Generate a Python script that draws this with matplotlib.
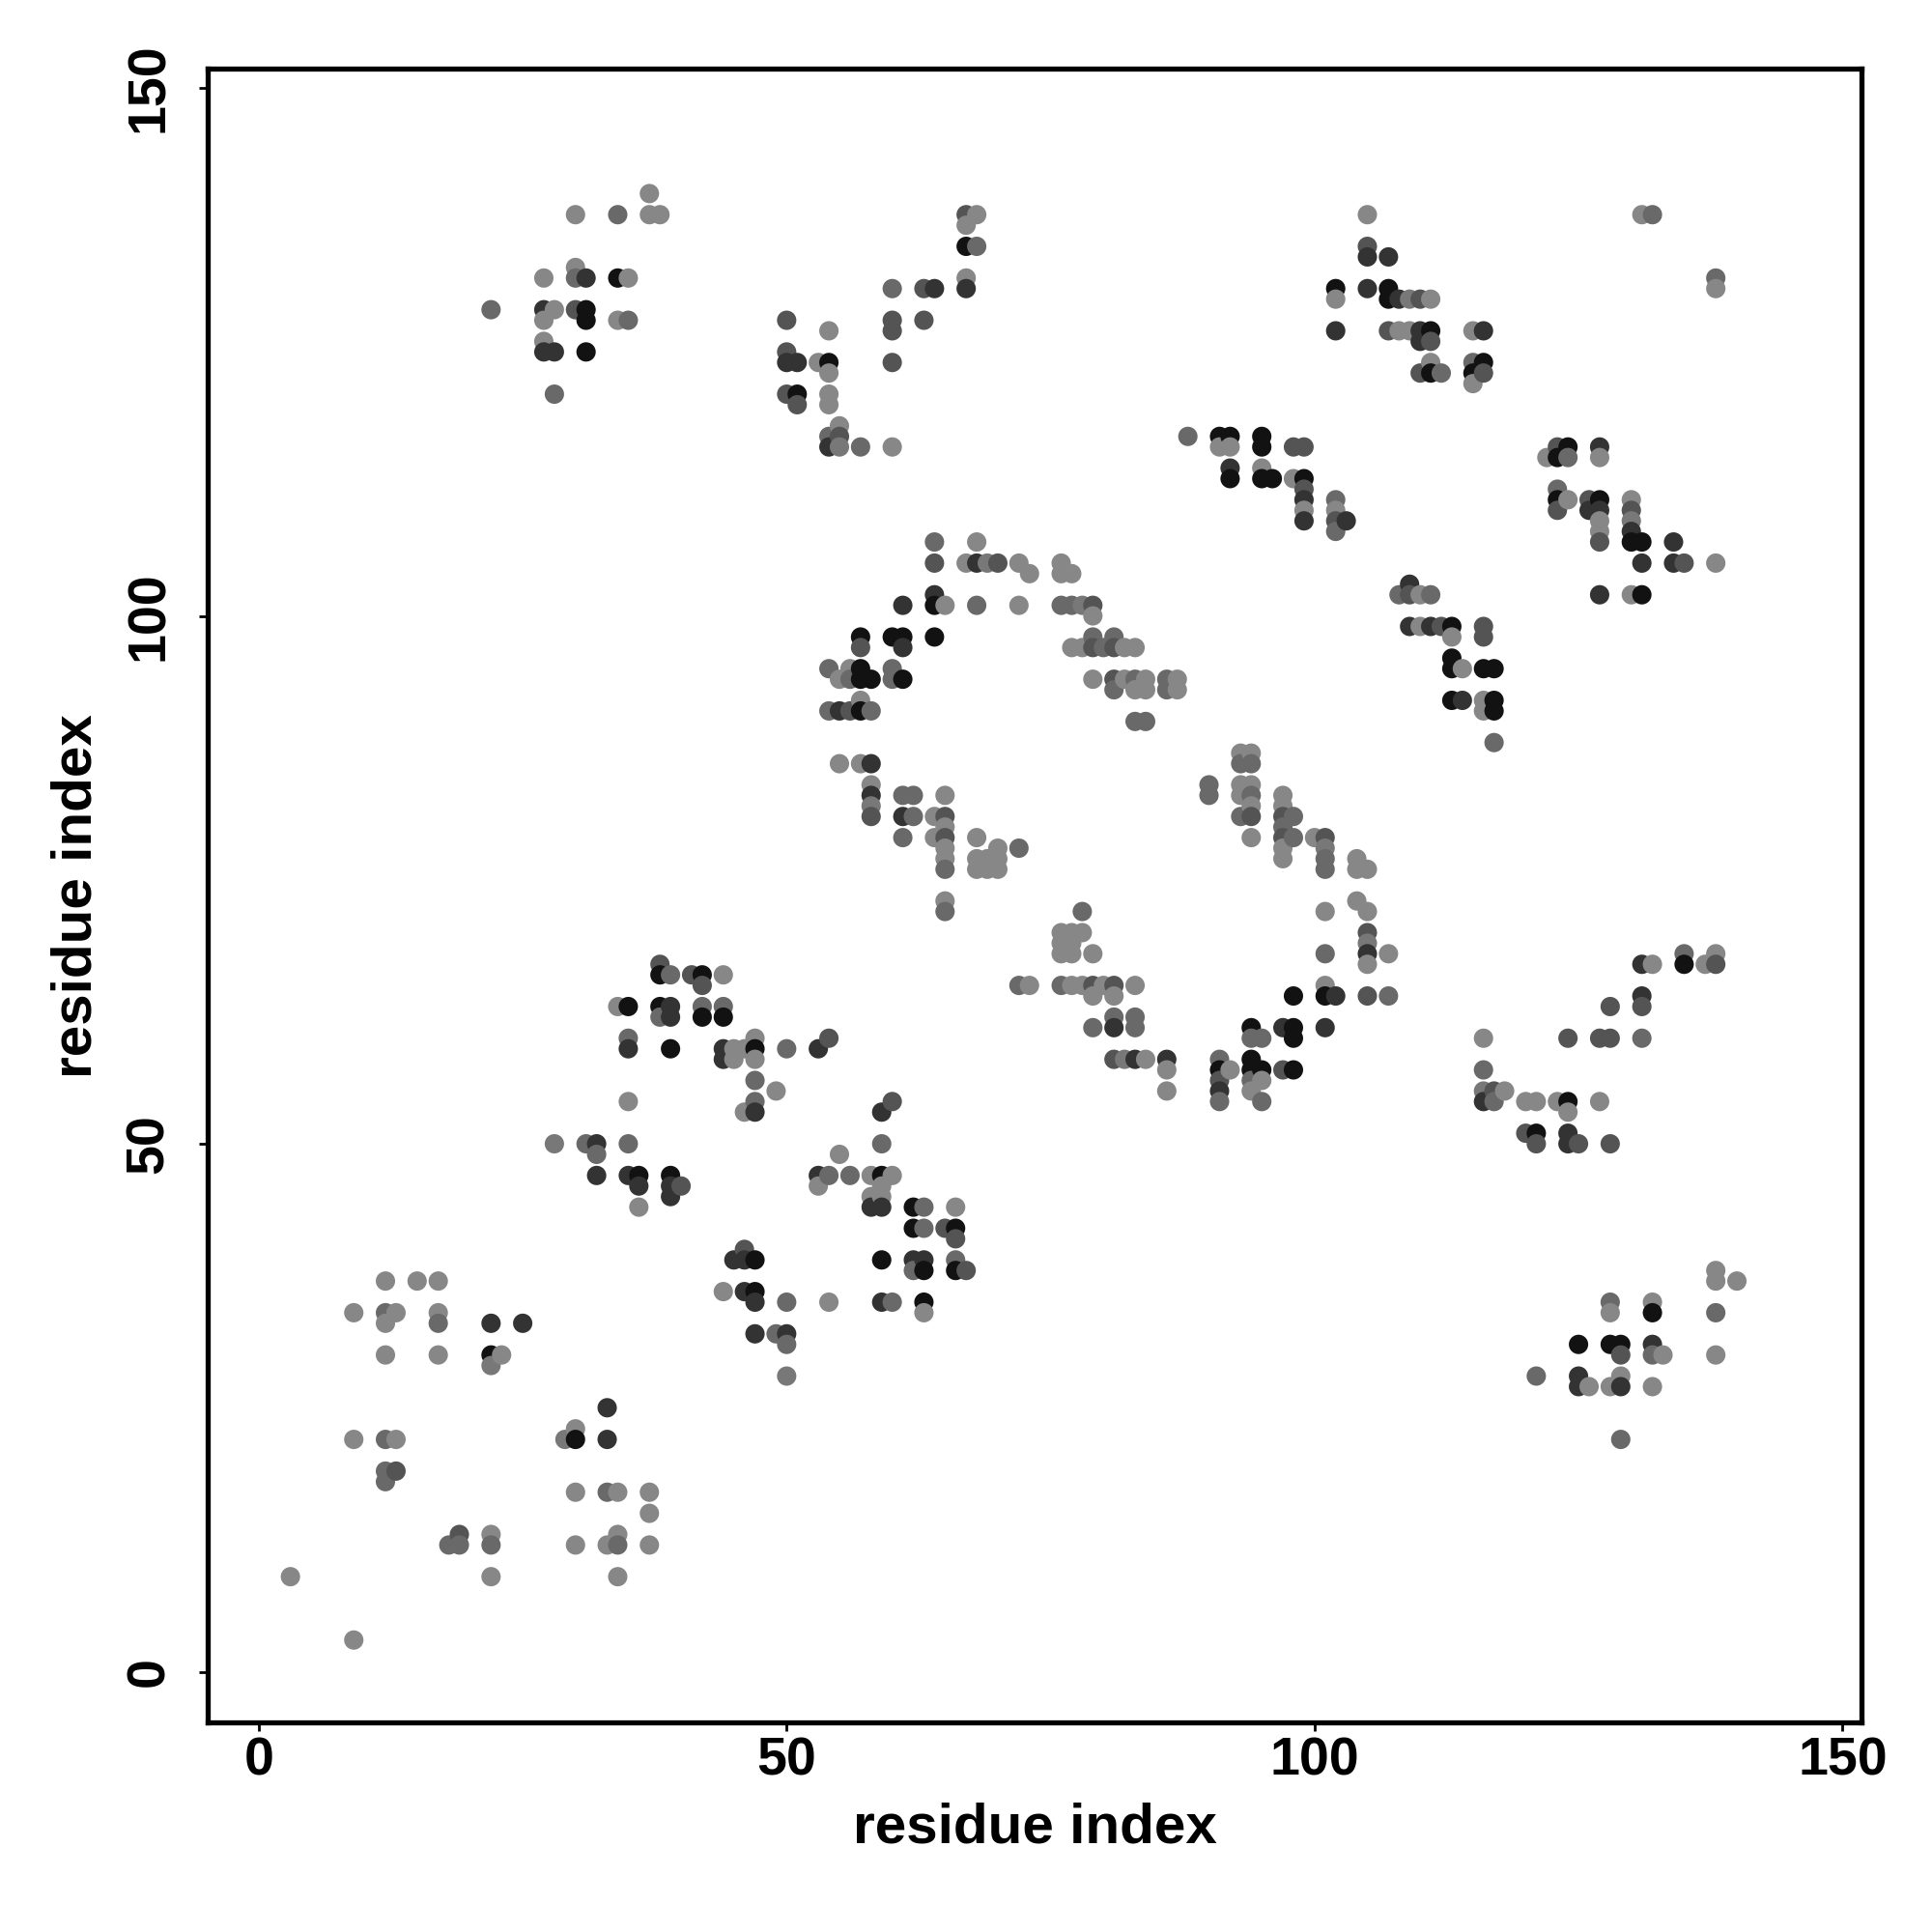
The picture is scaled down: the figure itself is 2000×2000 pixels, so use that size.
import matplotlib
matplotlib.use("Agg")
import matplotlib.pyplot as plt
import numpy as np

# contact confidence: 0 = weak (light gray) ... 5 = strong (black)
# only the upper triangle (i < j) is listed, the map is symmetric

# small contacts near the N-terminus
contacts_nterm = [
    (3, 9, 0), (9, 22, 0), (12, 22, 2), (13, 22, 0), (12, 19, 2), (13, 19, 3),
    (12, 18, 2), (12, 30, 0), (17, 30, 0), (22, 30, 5), (23, 30, 0), (22, 29, 1),
    (22, 33, 4), (25, 33, 4), (12, 33, 0), (12, 34, 2), (13, 34, 0), (9, 34, 0),
    (17, 33, 2), (17, 34, 0), (12, 37, 0), (15, 37, 0), (17, 37, 0),
]

# block around residues 28-54
contacts_mid = [
    (38, 67, 3), (38, 66, 5), (39, 66, 2), (41, 66, 3), (42, 66, 5), (44, 66, 0),
    (42, 65, 3), (34, 63, 0), (35, 63, 5), (38, 63, 5), (39, 63, 4), (42, 63, 2),
    (44, 63, 2), (38, 62, 2), (39, 62, 4), (42, 62, 5), (44, 62, 5), (35, 60, 2),
    (47, 60, 0), (54, 60, 3), (35, 59, 4), (39, 59, 5), (44, 59, 4), (45, 59, 0),
    (46, 59, 0), (47, 59, 5), (50, 59, 2), (53, 59, 4), (44, 58, 4), (45, 58, 0),
    (47, 58, 0), (47, 56, 2), (49, 55, 0), (35, 54, 0), (47, 54, 2), (46, 53, 0),
    (47, 53, 4), (28, 50, 1), (31, 50, 2), (32, 50, 4), (35, 50, 2), (32, 49, 2),
    (32, 47, 4), (35, 47, 4), (36, 47, 5), (39, 47, 5), (36, 46, 4), (39, 46, 4),
    (40, 46, 3), (39, 45, 4), (36, 44, 0),
]

# 20s-30s against 120s-140
contacts_ends = [
    (37, 140, 0), (30, 138, 0), (34, 138, 2), (37, 138, 0), (38, 138, 0),
    (30, 133, 0), (27, 132, 0), (30, 132, 2), (31, 132, 4), (34, 132, 5),
    (35, 132, 0), (22, 129, 2), (27, 129, 4), (28, 129, 0), (30, 129, 3),
    (31, 129, 5), (27, 128, 0), (31, 128, 5), (34, 128, 0), (35, 128, 2),
    (27, 126, 0), (27, 125, 4), (28, 125, 4), (31, 125, 5), (28, 121, 2),
]

# 50-68 against 116-138
contacts_top = [
    (67, 138, 3), (68, 138, 0), (67, 137, 0), (67, 135, 5), (68, 135, 2),
    (67, 132, 0), (67, 131, 4), (60, 131, 2), (63, 131, 3), (64, 131, 4),
    (60, 128, 3), (60, 127, 3), (63, 128, 3), (54, 127, 0), (50, 128, 3),
    (50, 125, 3), (50, 124, 4), (51, 124, 4), (53, 124, 0), (54, 124, 5),
    (54, 123, 0), (60, 124, 3), (50, 121, 3), (51, 121, 5), (51, 120, 3),
    (54, 121, 0), (54, 120, 0), (55, 118, 0), (54, 117, 2), (55, 117, 3),
    (54, 116, 4), (55, 116, 1), (57, 116, 2), (60, 116, 0),
]

# 102-116 against 122-138
contacts_cterm = [
    (105, 138, 0), (131, 138, 0), (132, 138, 2), (105, 135, 3), (105, 134, 4),
    (107, 134, 4), (102, 131, 5), (102, 130, 0), (105, 131, 4), (107, 131, 5),
    (107, 130, 5), (108, 130, 4), (109, 130, 1), (110, 130, 3), (111, 130, 0),
    (102, 127, 4), (107, 127, 3), (108, 127, 0), (109, 127, 0), (110, 127, 4),
    (111, 127, 5), (110, 126, 4), (111, 126, 3), (115, 127, 0), (116, 127, 4),
    (111, 124, 0), (110, 123, 3), (111, 123, 5), (112, 123, 2), (115, 124, 2),
    (116, 124, 5), (115, 123, 5), (116, 123, 3), (115, 122, 0),
]

# 88-103 against 108-117
contacts_hairpin = [
    (88, 117, 2), (91, 117, 5), (92, 117, 5), (91, 116, 0), (92, 116, 0),
    (95, 117, 5), (95, 116, 5), (98, 116, 3), (99, 116, 3), (92, 114, 4),
    (92, 113, 5), (95, 114, 0), (95, 113, 5), (96, 113, 5), (98, 113, 0),
    (99, 113, 5), (99, 112, 3), (99, 111, 4), (99, 110, 0), (99, 109, 4),
    (102, 111, 2), (102, 110, 0), (102, 109, 3), (102, 108, 2), (103, 109, 4),
]

# ring: 54-87 against 90-107
contacts_ring = [
    (64, 107, 2), (68, 107, 0), (64, 105, 3), (67, 105, 0), (68, 105, 4),
    (69, 105, 1), (70, 105, 3), (72, 105, 0), (76, 105, 0), (73, 104, 0),
    (76, 104, 0), (77, 104, 0), (64, 102, 4), (61, 101, 4), (64, 101, 5),
    (65, 101, 0), (68, 101, 2), (72, 101, 0), (76, 101, 2), (77, 101, 2),
    (78, 101, 1), (79, 101, 3), (79, 100, 0), (57, 98, 5), (60, 98, 5),
    (61, 98, 5), (64, 98, 5), (79, 98, 2), (81, 98, 2), (57, 97, 3),
    (61, 97, 4), (77, 97, 0), (78, 97, 0), (79, 97, 3), (80, 97, 2),
    (81, 97, 3), (82, 97, 0), (83, 97, 0), (54, 95, 2), (56, 95, 0),
    (57, 95, 5), (60, 95, 2), (55, 94, 0), (56, 94, 2), (57, 94, 5),
    (58, 94, 5), (60, 94, 2), (61, 94, 5), (79, 94, 0), (81, 94, 3),
    (82, 94, 0), (83, 94, 2), (84, 94, 0), (86, 94, 2), (87, 94, 0),
    (81, 93, 2), (83, 93, 0), (84, 93, 0), (86, 93, 2), (87, 93, 0),
    (57, 92, 0), (54, 91, 2), (55, 91, 4), (56, 91, 3), (57, 91, 5),
    (58, 91, 2), (83, 90, 2), (84, 90, 2),
]

# 55-72 against 72-86
contacts_loop = [
    (55, 86, 0), (57, 86, 0), (58, 86, 4), (58, 84, 0), (58, 83, 4),
    (58, 82, 1), (58, 81, 3), (61, 83, 2), (62, 83, 2), (65, 83, 0),
    (61, 81, 4), (62, 81, 2), (64, 81, 0), (65, 81, 3), (61, 79, 2),
    (64, 79, 0), (65, 80, 0), (65, 79, 3), (65, 78, 0), (65, 77, 0),
    (65, 76, 2), (68, 79, 0), (70, 78, 0), (72, 78, 2), (68, 77, 0),
    (69, 77, 0), (70, 77, 0), (68, 76, 0), (69, 76, 0), (70, 76, 0),
    (65, 73, 0), (65, 72, 2),
]

n_res = 146
tick_vals = [0, 50, 100, 150]
axis_label = "residue index"

plt.rcParams['font.family'] = ['Liberation Sans', 'DejaVu Sans']
plt.rcParams['font.weight'] = 'bold'

# collect both halves of the symmetric map
upper = (contacts_nterm + contacts_mid + contacts_ends + contacts_top
         + contacts_cterm + contacts_hairpin + contacts_ring + contacts_loop)
upper = np.array(upper)
xs = np.concatenate([upper[:, 0], upper[:, 1]])
ys = np.concatenate([upper[:, 1], upper[:, 0]])
conf = np.concatenate([upper[:, 2], upper[:, 2]])

# draw column by column, like the original
order = np.lexsort((-ys, xs))
xs, ys, conf = xs[order], ys[order], conf[order]

gray_levels = np.array([0.53, 0.47, 0.41, 0.33, 0.20, 0.07])
colors = [(g, g, g) for g in gray_levels[conf]]

fig = plt.figure(figsize=(10, 10), dpi=200)
ax = fig.add_axes([0.1077, 0.1085, 0.9635 - 0.1077, 0.9643 - 0.1085])

ax.scatter(xs, ys, s=52, c=colors, linewidths=0, zorder=2)

# R style 4% padding around 1..n_res
pad = 0.04 * (n_res - 1)
ax.set_xlim(1 - pad, n_res + pad)
ax.set_ylim(1 - pad, n_res + pad)

for sp in ax.spines.values():
    sp.set_linewidth(1.9)
    sp.set_color('black')

ax.set_xticks(tick_vals)
ax.set_yticks(tick_vals)
ax.tick_params(axis='both', direction='out', length=3.4, width=1.0,
               labelsize=20, color='black')
ax.tick_params(axis='x', pad=2)
ax.tick_params(axis='y', pad=9)
for lab in ax.get_yticklabels():
    lab.set_rotation(90)
    lab.set_va('center')
for lab in ax.get_xticklabels() + ax.get_yticklabels():
    lab.set_fontweight('bold')

ax.set_xlabel(axis_label, fontsize=21, fontweight='bold')
ax.set_ylabel(axis_label, fontsize=21, fontweight='bold')
ax.xaxis.set_label_coords(0.5, -0.0637)
ax.yaxis.set_label_coords(-0.0796, 0.5)
ax.xaxis.label.set_va('center')
ax.yaxis.label.set_va('center')

fig.savefig("out.png", dpi=200, facecolor='white')
